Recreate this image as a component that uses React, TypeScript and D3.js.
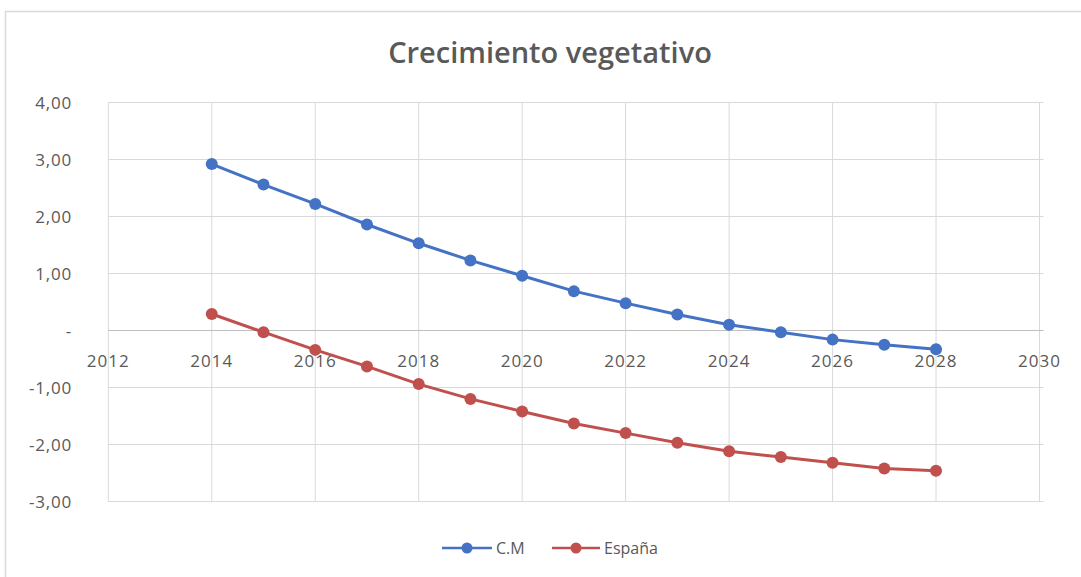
import React from "react";
import * as d3 from "d3";

const years = [2014, 2015, 2016, 2017, 2018, 2019, 2020, 2021, 2022, 2023, 2024, 2025, 2026, 2027, 2028];
const cmValues = [2.92, 2.56, 2.22, 1.86, 1.53, 1.23, 0.96, 0.69, 0.48, 0.28, 0.1, -0.03, -0.16, -0.25, -0.33];
const espanaValues = [0.29, -0.03, -0.34, -0.63, -0.94, -1.2, -1.42, -1.63, -1.8, -1.97, -2.12, -2.22, -2.32, -2.42, -2.46];
const xTicks = [2012, 2014, 2016, 2018, 2020, 2022, 2024, 2026, 2028, 2030];
const yTicks = [4, 3, 2, 1, 0, -1, -2, -3];
const seriesNames = ["C.M", "España"];
const title = "Crecimiento vegetativo";

const colors = ["#4472C4", "#C0504D"];
const font = "'Open Sans', 'Liberation Sans', sans-serif";

export default function App() {
  const x = d3.scaleLinear().domain([2012, 2030]).range([108.3, 1039.5]);
  const y = d3.scaleLinear().domain([-3, 4]).range([501.5, 102.5]);
  const line = d3
    .line<[number, number]>()
    .x((d) => x(d[0]))
    .y((d) => y(d[1]));
  const series = [cmValues, espanaValues].map((vals) => years.map((yr, i) => [yr, vals[i]] as [number, number]));
  const fmt = (v: number) => (v === 0 ? "-" : v.toFixed(2).replace(".", ","));

  return (
    <svg width={1081} height={577} style={{ position: "absolute", left: 0, top: 0, background: "#fff" }}>
      <rect x={5.5} y={11.5} width={1090} height={580} fill="#fff" stroke="#d9d9d9" strokeWidth={1.5} />
      <text x={550} y={63} textAnchor="middle" fontFamily={font} fontSize={29} fontWeight={600} fill="#595959">
        {title}
      </text>
      {xTicks.map((t) => (
        <line key={"vx" + t} x1={x(t)} x2={x(t)} y1={y(4)} y2={y(-3)} stroke="#d9d9d9" strokeWidth={1} />
      ))}
      {yTicks.map((t) => (
        <line key={"hy" + t} x1={x(2012)} x2={x(2030) + 4} y1={y(t)} y2={y(t)} stroke={t === 0 ? "#bfbfbf" : "#d9d9d9"} strokeWidth={1} />
      ))}
      {yTicks.map((t) => (
        <text key={"ty" + t} x={72} y={y(t) + 6} textAnchor="end" fontFamily={font} fontSize={17} letterSpacing={0.8} fill="#595959">
          {fmt(t)}
        </text>
      ))}
      {xTicks.map((t) => (
        <text key={"tx" + t} x={x(t)} y={y(0) + 36} textAnchor="middle" fontFamily={font} fontSize={17} letterSpacing={1} fill="#595959">
          {t}
        </text>
      ))}
      {series.map((s, si) => (
        <g key={"s" + si}>
          <path d={line(s) || ""} fill="none" stroke={colors[si]} strokeWidth={3} />
          {s.map((d, i) => (
            <circle key={i} cx={x(d[0])} cy={y(d[1])} r={6} fill={colors[si]} />
          ))}
        </g>
      ))}
      <g>
        <line x1={442} x2={492} y1={548} y2={548} stroke={colors[0]} strokeWidth={2.5} />
        <circle cx={467} cy={548} r={5.5} fill={colors[0]} />
        <text x={496} y={554} fontFamily={font} fontSize={16} fill="#595959">
          {seriesNames[0]}
        </text>
        <line x1={552} x2={600} y1={548} y2={548} stroke={colors[1]} strokeWidth={2.5} />
        <circle cx={576} cy={548} r={5.5} fill={colors[1]} />
        <text x={604} y={554} fontFamily={font} fontSize={16} fill="#595959">
          {seriesNames[1]}
        </text>
      </g>
    </svg>
  );
}
